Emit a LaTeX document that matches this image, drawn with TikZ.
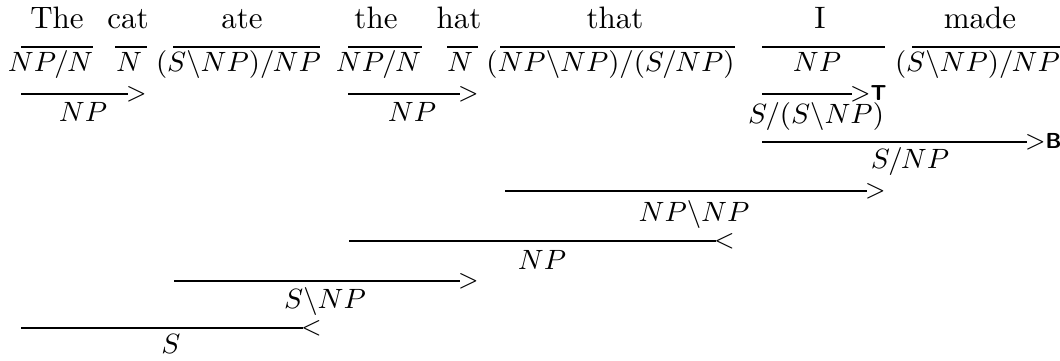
\documentclass[tikz,border=0pt]{standalone}
\newcommand{\ruletag}[1]{{\scriptsize\sffamily\bfseries #1}}
\begin{document}
\begin{tikzpicture}[x=0.32258pt,y=-0.32258pt,
  word/.style={anchor=base,inner sep=0pt,outer sep=0pt},
  cat/.style={anchor=base,inner sep=0pt,outer sep=0pt,font=\fontsize{9.3}{11}\selectfont},
  res/.style={anchor=base,inner sep=0pt,outer sep=0pt,font=\fontsize{9.3}{11}\selectfont},
  rulel/.style={line width=0.45pt},
  opl/.style={anchor=base west,inner sep=0pt,outer sep=0pt,yshift=-2pt,xshift=-0.6pt,font=\footnotesize}]
\useasboundingbox (0,0) rectangle (1060,360);
% words
\node[word] (wThe)  at (57,28)  {The};
\node[word] (wcat)  at (128,28) {cat};
\node[word] (wate)  at (242,28) {ate};
\node[word] (wthe)  at (376,28) {the};
\node[word] (what)  at (459,28) {hat};
\node[word] (wthat) at (615,28) {that};
\node[word] (wI)    at (820,28) {I};
\node[word] (wmade) at (980,28) {made};
% lexical lines
\coordinate (a1) at (21,47);  \coordinate (b1) at (93,47);
\coordinate (a2) at (115,47); \coordinate (b2) at (147,47);
\coordinate (a3) at (173,47); \coordinate (b3) at (320,47);
\coordinate (a4) at (348,47); \coordinate (b4) at (422,47);
\coordinate (a5) at (447,47); \coordinate (b5) at (478,47);
\coordinate (a6) at (500,47); \coordinate (b6) at (735,47);
\coordinate (a7) at (762,47); \coordinate (b7) at (885,47);
\coordinate (a8) at (912,47); \coordinate (b8) at (1060,47);
\foreach \i in {1,...,8} {\draw[rulel] (a\i) -- (b\i);}
% categories
\node[cat] (c1) at (50.5,71)  {$NP/N$};
\node[cat] (c2) at (129,71)   {$N$};
\node[cat] (c3) at (238.5,71) {$(S\backslash NP)/NP$};
\node[cat] (c4) at (378.5,71) {$NP/N$};
\node[cat] (c5) at (460,71)   {$N$};
\node[cat] (c6) at (610.5,71) {$(NP\backslash NP)/(S/NP)$};
\node[cat] (c7) at (817,71)   {$NP$};
\node[cat] (c8) at (977.5,71) {$(S\backslash NP)/NP$};
% combination 1: The cat
\coordinate (r1a) at (21,94);  \coordinate (r1b) at (128,94);
\draw[rulel] (r1a) -- (r1b);
\node[opl] (o1) at (r1b) {$>$};
\node[res] (n1) at (83,121) {$NP$};
% combination 2: the hat
\coordinate (r2a) at (348,94); \coordinate (r2b) at (460,94);
\draw[rulel] (r2a) -- (r2b);
\node[opl] (o2) at (r2b) {$>$};
\node[res] (n2) at (412,121) {$NP$};
% type raising of I
\coordinate (r3a) at (762,94); \coordinate (r3b) at (852,94);
\draw[rulel] (r3a) -- (r3b);
\node[opl] (o3) at (r3b) {$>$\ruletag{T}};
\node[res] (n3) at (816,123) {$S/(S\backslash NP)$};
% composition
\coordinate (r4a) at (762,142); \coordinate (r4b) at (1027,142);
\draw[rulel] (r4a) -- (r4b);
\node[opl] (o4) at (r4b) {$>$\ruletag{B}};
\node[res] (n4) at (910,168) {$S/NP$};
% that + S/NP
\coordinate (r5a) at (505,191); \coordinate (r5b) at (867,191);
\draw[rulel] (r5a) -- (r5b);
\node[opl] (o5) at (r5b) {$>$};
\node[res] (n5) at (694,221) {$NP\backslash NP$};
% NP + NP\NP
\coordinate (r6a) at (349,241); \coordinate (r6b) at (716,241);
\draw[rulel] (r6a) -- (r6b);
\node[opl] (o6) at (r6b) {$<$};
\node[res] (n6) at (542,269) {$NP$};
% ate + NP
\coordinate (r7a) at (174,281); \coordinate (r7b) at (460,281);
\draw[rulel] (r7a) -- (r7b);
\node[opl] (o7) at (r7b) {$>$};
\node[res] (n7) at (325,308) {$S\backslash NP$};
% NP + S\NP
\coordinate (r8a) at (21,328); \coordinate (r8b) at (303,328);
\draw[rulel] (r8a) -- (r8b);
\node[opl] (o8) at (r8b) {$<$};
\node[res] (n8) at (171,353) {$S$};
\end{tikzpicture}
\end{document}
